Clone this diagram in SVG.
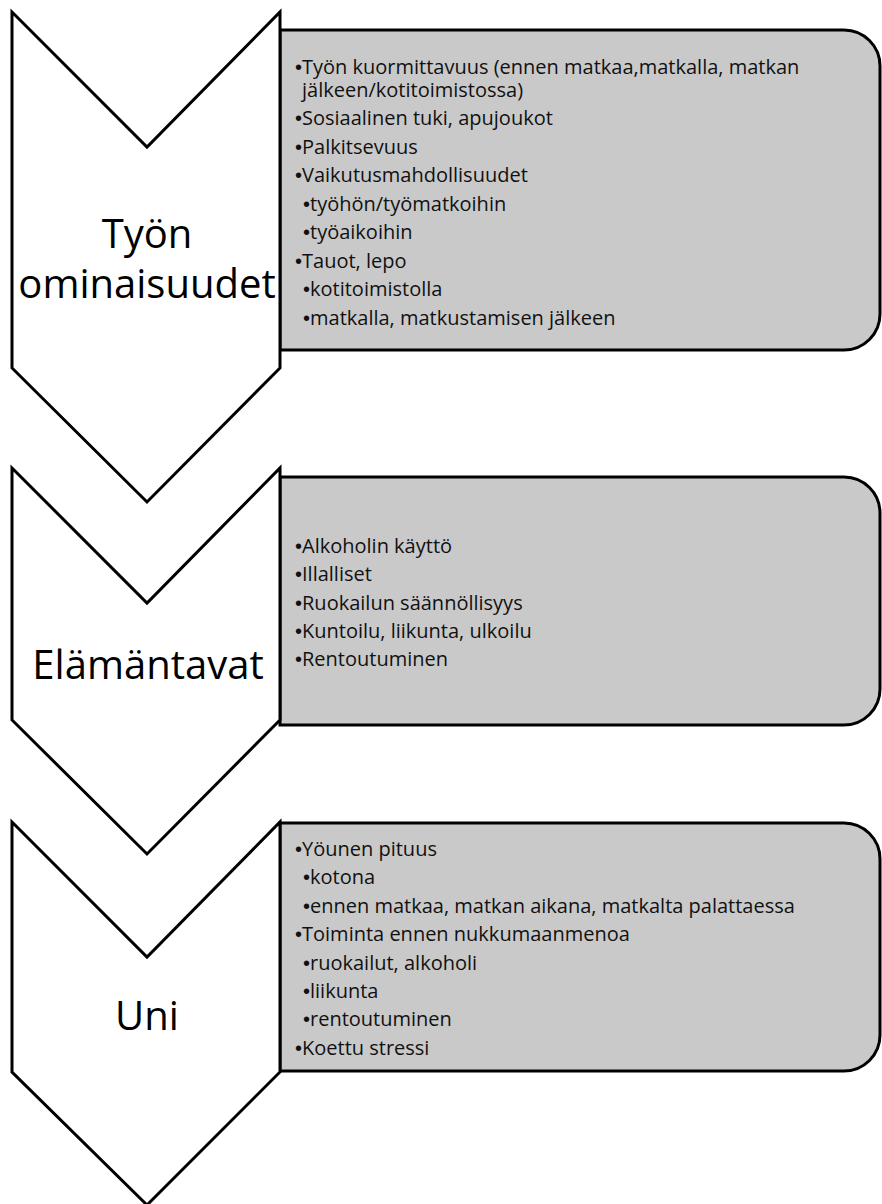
<svg xmlns="http://www.w3.org/2000/svg" width="882" height="1204" viewBox="0 0 882 1204">
<style>
.box{fill:#c9c9c9;stroke:#000;stroke-width:3}
.chev{fill:#fff;stroke:#000;stroke-width:3;stroke-linejoin:miter}
.lbl{font-family:"Open Sans","Noto Sans",sans-serif;font-size:40px;fill:#000;text-anchor:middle}
.t{font-family:"Open Sans","Noto Sans",sans-serif;font-size:20px;fill:#111}
.b{font-family:"Liberation Sans",Arial,sans-serif;font-size:20px}
</style>
<rect width="882" height="1204" fill="#fff"/>
<g id="box1">
<path class="box" d="M280,30 H844 A36,36 0 0 1 880,66 V314 A36,36 0 0 1 844,350 H280 Z"/>
<text class="t" x="295" y="74"><tspan class="b">•</tspan>Työn kuormittavuus (ennen matkaa,matkalla, matkan</text>
<text class="t" x="302" y="97">jälkeen/kotitoimistossa)</text>
<text class="t" x="295" y="125"><tspan class="b">•</tspan>Sosiaalinen tuki, apujoukot</text>
<text class="t" x="295" y="154"><tspan class="b">•</tspan>Palkitsevuus</text>
<text class="t" x="295" y="182"><tspan class="b">•</tspan>Vaikutusmahdollisuudet</text>
<text class="t" x="303" y="211"><tspan class="b">•</tspan>työhön/työmatkoihin</text>
<text class="t" x="303" y="239"><tspan class="b">•</tspan>työaikoihin</text>
<text class="t" x="295" y="268"><tspan class="b">•</tspan>Tauot, lepo</text>
<text class="t" x="303" y="296"><tspan class="b">•</tspan>kotitoimistolla</text>
<text class="t" x="303" y="325"><tspan class="b">•</tspan>matkalla, matkustamisen jälkeen</text>
</g>
<g id="box2">
<path class="box" d="M280,477 H844 A36,36 0 0 1 880,513 V689 A36,36 0 0 1 844,725 H280 Z"/>
<text class="t" x="295" y="553"><tspan class="b">•</tspan>Alkoholin käyttö</text>
<text class="t" x="295" y="581"><tspan class="b">•</tspan>Illalliset</text>
<text class="t" x="295" y="610"><tspan class="b">•</tspan>Ruokailun säännöllisyys</text>
<text class="t" x="295" y="638"><tspan class="b">•</tspan>Kuntoilu, liikunta, ulkoilu</text>
<text class="t" x="295" y="666"><tspan class="b">•</tspan>Rentoutuminen</text>
</g>
<g id="box3">
<path class="box" d="M280,823 H844 A36,36 0 0 1 880,859 V1035 A36,36 0 0 1 844,1071 H280 Z"/>
<text class="t" x="295" y="856"><tspan class="b">•</tspan>Yöunen pituus</text>
<text class="t" x="303" y="884"><tspan class="b">•</tspan>kotona</text>
<text class="t" x="303" y="913"><tspan class="b">•</tspan>ennen matkaa, matkan aikana, matkalta palattaessa</text>
<text class="t" x="295" y="941"><tspan class="b">•</tspan>Toiminta ennen nukkumaanmenoa</text>
<text class="t" x="303" y="970"><tspan class="b">•</tspan>ruokailut, alkoholi</text>
<text class="t" x="303" y="998"><tspan class="b">•</tspan>liikunta</text>
<text class="t" x="303" y="1026"><tspan class="b">•</tspan>rentoutuminen</text>
<text class="t" x="295" y="1055"><tspan class="b">•</tspan>Koettu stressi</text>
</g>
<g id="chevron1">
<polygon class="chev" points="12,12 147,147 280,12 280,368 147,502 12,368"/>
<text class="lbl" x="147" y="248">Työn</text>
<text class="lbl" x="147" y="298">ominaisuudet</text>
</g>
<g id="chevron2">
<polygon class="chev" points="12,468 147,603 280,468 280,720 147,854 12,720"/>
<text class="lbl" x="148" y="679">Elämäntavat</text>
</g>
<g id="chevron3">
<polygon class="chev" points="12,822 147,957 280,822 280,1072 147,1205 12,1072"/>
<text class="lbl" x="147" y="1030">Uni</text>
</g>
<g id="connectors"></g>
</svg>
